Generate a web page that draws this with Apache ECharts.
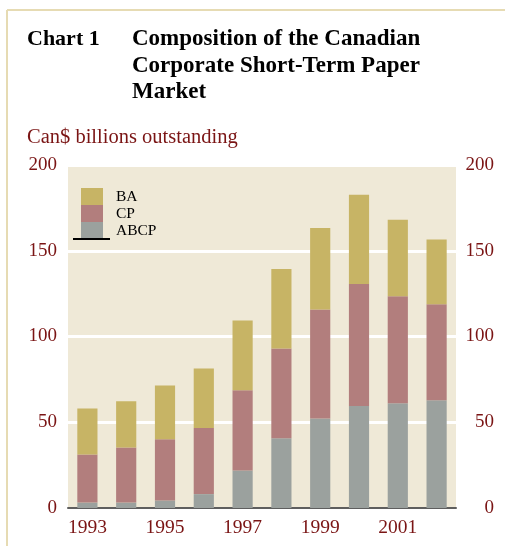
<!DOCTYPE html>
<html>
<head>
<meta charset="utf-8">
<script src="https://cdn.jsdelivr.net/npm/echarts@6/dist/echarts.min.js"></script>
<style>
html,body{margin:0;padding:0;background:#fff;}
#c{width:505px;height:546px;}
</style>
</head>
<body>
<div id="c"></div>
<script>
var years = ['1993','1994','1995','1996','1997','1998','1999','2000','2001','2002'];
var abcp = [3.2, 3.2, 4.4, 8.1, 21.9, 40.7, 52.2, 59.5, 61.1, 62.8];
var cp   = [28.0, 32.1, 35.7, 38.6, 46.8, 52.3, 63.5, 71.1, 62.3, 56.0];
var ba   = [26.8, 26.9, 31.3, 34.6, 40.6, 46.4, 47.6, 52.1, 44.7, 37.8];
var yTicks = [0, 50, 100, 150, 200];

var serif = '"Liberation Serif", "Times New Roman", serif';
var red = '#7a1414';
var chart = echarts.init(document.getElementById('c'), null, {renderer: 'canvas'});
var yAxisBase = {
  type: 'value', min: 0, max: 200, interval: 50,
  axisLine: {show: false}, axisTick: {show: false},
  splitLine: {show: true, lineStyle: {color: '#ffffff', width: 3}},
  axisLabel: {color: red, fontFamily: serif, fontSize: 19,
    formatter: function (v) { return yTicks.indexOf(v) >= 0 ? String(v) : ''; }}
};
chart.setOption({
  animation: false,
  backgroundColor: '#ffffff',
  title: [
    {text: 'Chart 1', left: 27, top: 26, padding: 0,
     textStyle: {fontFamily: serif, fontWeight: 'bold', fontSize: 22, color: '#000', lineHeight: 26.5}},
    {text: 'Composition of the Canadian\nCorporate Short-Term Paper\nMarket', left: 132, top: 26, padding: 0,
     textStyle: {fontFamily: serif, fontWeight: 'bold', fontSize: 23, color: '#000', lineHeight: 26.5}},
    {text: 'Can$ billions outstanding', left: 27, top: 127, padding: 0,
     textStyle: {fontFamily: serif, fontWeight: 'normal', fontSize: 20.5, color: red}}
  ],
  legend: {
    orient: 'vertical', left: 81, top: 188, padding: 0,
    itemWidth: 22, itemHeight: 17, itemGap: 0, icon: 'rect',
    data: ['BA', 'CP', 'ABCP'],
    textStyle: {fontFamily: serif, fontSize: 15.5, color: '#000', padding: [0, 0, 0, 8]}
  },
  grid: {left: 68, right: 49, top: 165, bottom: 38, show: true, backgroundColor: '#efe9d7', borderWidth: 0},
  xAxis: {
    type: 'category', data: years,
    axisLine: {show: true, lineStyle: {color: '#5e5e5e', width: 2}},
    axisTick: {show: false},
    axisLabel: {color: red, fontFamily: serif, fontSize: 19.5, margin: 10, interval: 1}
  },
  yAxis: [
    Object.assign({}, yAxisBase, {position: 'left', axisLabel: Object.assign({}, yAxisBase.axisLabel, {margin: 11})}),
    Object.assign({}, yAxisBase, {position: 'right', splitLine: {show: false},
      axisLabel: Object.assign({}, yAxisBase.axisLabel, {margin: 38, align: 'right'})})
  ],
  series: [
    {name: 'ABCP', type: 'bar', stack: 'a', data: abcp, barWidth: '52%', itemStyle: {color: '#9ba19e'}},
    {name: 'CP', type: 'bar', stack: 'a', data: cp, itemStyle: {color: '#b27e7d'}},
    {name: 'BA', type: 'bar', stack: 'a', data: ba, itemStyle: {color: '#c7b465'}}
  ],
  graphic: [
    {type: 'line', shape: {x1: 7, y1: 10, x2: 505, y2: 10}, style: {stroke: '#e6dbb3', lineWidth: 2}},
    {type: 'line', shape: {x1: 7, y1: 10, x2: 7, y2: 546}, style: {stroke: '#e6dbb3', lineWidth: 2}},
    {type: 'line', shape: {x1: 73, y1: 239, x2: 110, y2: 239}, style: {stroke: '#000', lineWidth: 2}, z: 100}
  ]
});
</script>
</body>
</html>
